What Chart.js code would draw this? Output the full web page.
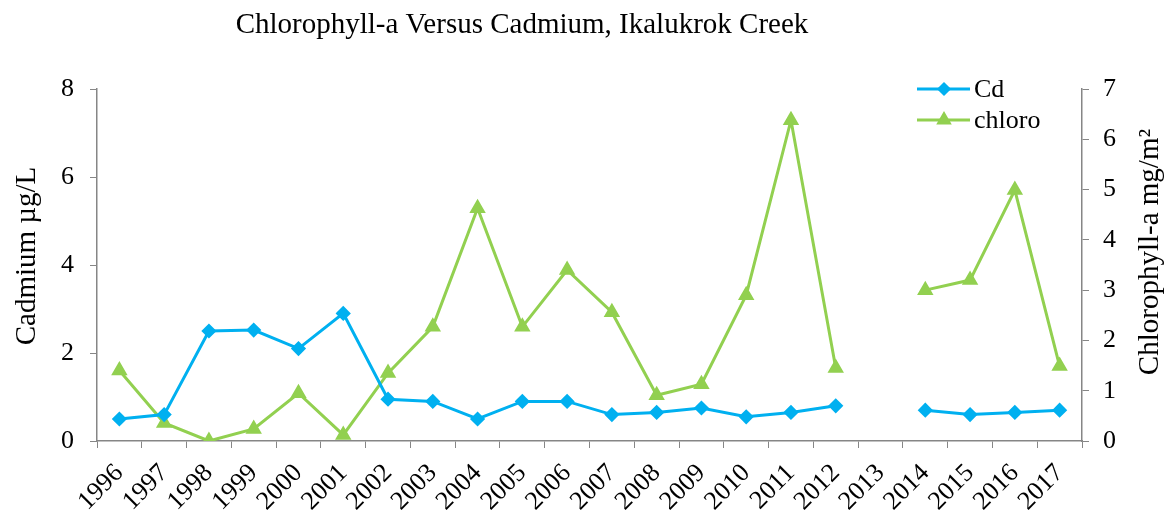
<!DOCTYPE html>
<html>
<head>
<meta charset="utf-8">
<script src="https://cdn.jsdelivr.net/npm/chart.js@4"></script>
<style>
  html, body { margin: 0; padding: 0; background: #fff; }
  #wrap { width: 1168px; height: 519px; }
</style>
</head>
<body>
<div id="wrap"><canvas id="c" width="1168" height="519"></canvas></div>
<script>
// ---- data ----
const years = ['1996','1997','1998','1999','2000','2001','2002','2003','2004','2005','2006',
               '2007','2008','2009','2010','2011','2012','2013','2014','2015','2016','2017'];
const cadmium = [0.5, 0.6, 2.5, 2.52, 2.1, 2.9, 0.95, 0.9, 0.5, 0.9, 0.9,
                 0.6, 0.65, 0.75, 0.55, 0.65, 0.8, null, 0.7, 0.6, 0.65, 0.7];
const chloro = [1.4, 0.36, 0.0, 0.24, 0.95, 0.12, 1.35, 2.27, 4.63, 2.27, 3.4,
                2.56, 0.91, 1.13, 2.9, 6.38, 1.45, null, 3.0, 3.2, 4.99, 1.49];
const leftTicks = [0, 2, 4, 6, 8];
const rightTicks = [0, 1, 2, 3, 4, 5, 6, 7];

const CD_COLOR = '#00B0F0';
const CHL_COLOR = '#92D050';
const AXIS_COLOR = '#868686';
const FONT = '"Liberation Serif", "Times New Roman", serif';

// titles + legend drawn by hand to match the original layout
const decorations = {
  id: 'decorations',
  afterDraw(chart) {
    const ctx = chart.ctx;
    ctx.save();
    ctx.fillStyle = '#000';

    ctx.font = '29px ' + FONT;
    ctx.textAlign = 'center';
    ctx.textBaseline = 'middle';
    ctx.fillText('Chlorophyll-a Versus Cadmium, Ikalukrok Creek', 522, 25);

    // left axis title
    ctx.save();
    ctx.translate(27, 256);
    ctx.rotate(-Math.PI / 2);
    ctx.fillText('Cadmium \u00b5g/L', 0, 0);
    ctx.restore();

    // right axis title
    ctx.save();
    ctx.translate(1150, 252);
    ctx.rotate(-Math.PI / 2);
    ctx.fillText('Chlorophyll-a mg/m\u00b2', 0, 0);
    ctx.restore();

    // legend
    const items = [
      { label: 'Cd', color: CD_COLOR, style: 'rectRot', r: 5, y: 89 },
      { label: 'chloro', color: CHL_COLOR, style: 'triangle', r: 6, y: 120 }
    ];
    items.forEach(it => {
      ctx.strokeStyle = it.color;
      ctx.lineWidth = 3;
      ctx.beginPath();
      ctx.moveTo(917, it.y);
      ctx.lineTo(970, it.y);
      ctx.stroke();
      Chart.helpers.drawPoint(ctx, { pointStyle: it.style, radius: it.r, borderWidth: 1 }, 944, it.y);
      ctx.fillStyle = it.color;
      ctx.fill();
      ctx.fillStyle = '#000';
      ctx.font = '26px ' + FONT;
      ctx.textAlign = 'left';
      ctx.fillText(it.label, 974, it.y + 1);
    });
    ctx.restore();
  }
};

new Chart(document.getElementById('c'), {
  type: 'line',
  data: {
    labels: years,
    datasets: [
      {
        label: 'Cd',
        data: cadmium,
        yAxisID: 'y',
        borderColor: CD_COLOR,
        backgroundColor: CD_COLOR,
        borderWidth: 3,
        pointStyle: 'rectRot',
        pointRadius: 5.5,
        spanGaps: false,
        tension: 0
      },
      {
        label: 'chloro',
        data: chloro,
        yAxisID: 'y1',
        borderColor: CHL_COLOR,
        backgroundColor: CHL_COLOR,
        borderWidth: 3,
        pointStyle: 'triangle',
        pointRadius: 6.5,
        spanGaps: false,
        tension: 0
      }
    ]
  },
  options: {
    responsive: false,
    animation: false,
    layout: { padding: { top: 89, left: 0, right: 0, bottom: 0 } },
    plugins: {
      legend: { display: false },
      title: { display: false },
      tooltip: { enabled: false }
    },
    scales: {
      x: {
        offset: true,
        grid: { offset: true, drawOnChartArea: false, color: AXIS_COLOR, tickLength: 7 },
        border: { color: AXIS_COLOR, width: 1.5 },
        ticks: {
          color: '#000',
          font: { family: FONT, size: 26 },
          minRotation: 45,
          maxRotation: 45,
          autoSkip: false,
          padding: 10
        },
        afterFit(scale) { scale.height = 78; }
      },
      y: {
        position: 'left',
        min: 0,
        max: 8,
        afterBuildTicks(scale) { scale.ticks = leftTicks.map(v => ({ value: v })); },
        grid: { drawOnChartArea: false, color: AXIS_COLOR, tickLength: 7 },
        border: { color: AXIS_COLOR, width: 1.5 },
        ticks: { color: '#000', font: { family: FONT, size: 26 }, padding: 16 },
        afterFit(scale) { scale.width = 97; }
      },
      y1: {
        position: 'right',
        min: 0,
        max: 7,
        afterBuildTicks(scale) { scale.ticks = rightTicks.map(v => ({ value: v })); },
        grid: { drawOnChartArea: false, color: AXIS_COLOR, tickLength: 7 },
        border: { color: AXIS_COLOR, width: 1.5 },
        ticks: { color: '#000', font: { family: FONT, size: 26 }, padding: 14 },
        afterFit(scale) { scale.width = 86; }
      }
    }
  },
  plugins: [decorations]
});
</script>
</body>
</html>
